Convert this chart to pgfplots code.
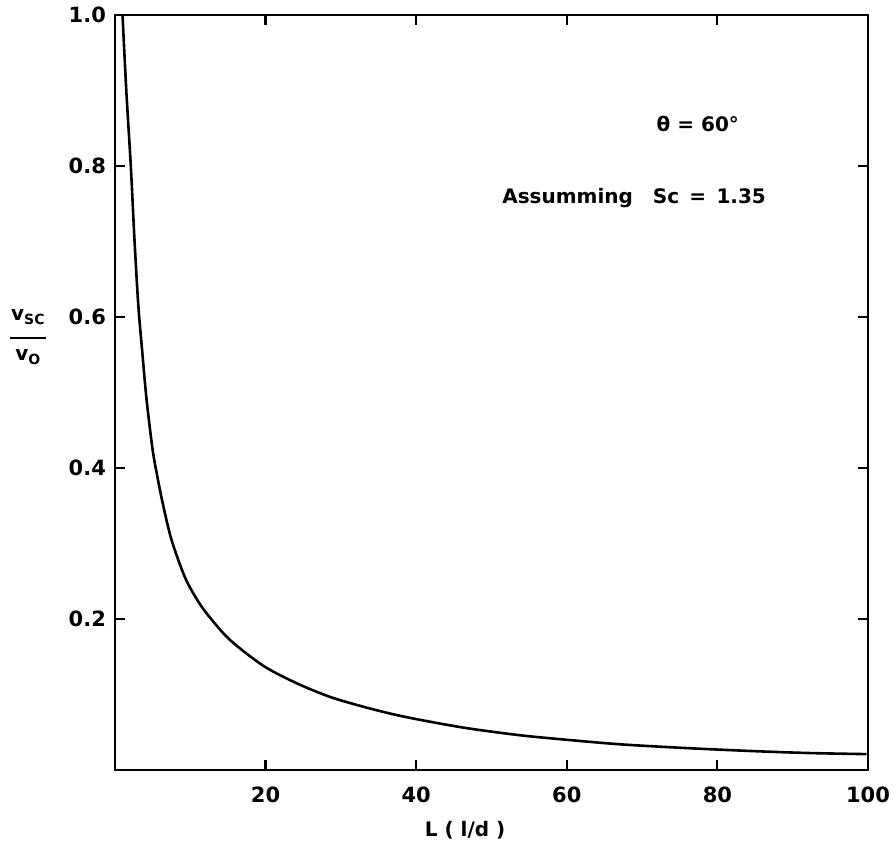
\documentclass[border=0pt]{standalone}
\usepackage{fontspec}
\setmainfont{DejaVu Sans}
\usepackage{pgfplots}
\pgfplotsset{compat=1.18}

\begin{document}
\begin{tikzpicture}[x=0.5pt,y=0.5pt]
% page frame, 896 x 855 px with the axis box at (115,15)-(868,770)
\useasboundingbox (-115,-85) rectangle (781,770);
\begin{axis}[
  at={(0,0)},anchor=south west,
  scale only axis,width=376.5pt,height=377.5pt,
  xmin=0,xmax=100,ymin=0,ymax=1.0,
  xtick={20,40,60,80,100},
  ytick={0.2,0.4,0.6,0.8,1.0},
  yticklabels={0.2,0.4,0.6,0.8,1.0},
  tick align=inside,major tick length=5pt,
  axis line style={line width=1.4pt},
  every tick/.style={line width=1.1pt,black},
  tick label style={font=\bfseries\fontsize{10.5}{12}\selectfont},
  /pgf/number format/assume math mode=true,
  xticklabel style={yshift=-5pt},
  yticklabel style={xshift=-1pt},
  clip=false,
]
\addplot[black,line width=1.3pt,smooth] coordinates {
  (1.0,1.0) (1.5,0.9) (2.1,0.8) (2.6,0.7) (3.1,0.615) (3.6,0.556)
  (4.2,0.49) (5.0,0.424) (5.6,0.39) (6.3,0.355) (7.5,0.305)
  (9.3,0.255) (11,0.224) (12.6,0.202) (15.3,0.172) (19.7,0.138)
  (24.1,0.115) (28.5,0.097) (32.9,0.084) (37.3,0.073) (41.8,0.064)
  (47,0.055) (53.8,0.046) (60,0.040) (67.1,0.034) (75.9,0.029)
  (84.8,0.025) (92,0.0225) (99.8,0.021)
};
\node[anchor=west,font=\bfseries\fontsize{10}{12}\selectfont] at (axis cs:71,0.855) {θ = 60\textdegree};
\node[anchor=west,font=\bfseries\fontsize{10}{12}\selectfont] at (axis cs:50.5,0.758) {Assumming\quad Sc \,=\, 1.35};
\node[font=\bfseries\fontsize{10}{12}\selectfont] at (axis cs:46.5,-0.08) {L ( l/d )};
\node[font=\bfseries\fontsize{10}{12}\selectfont,inner sep=0pt] at (axis cs:-11.5,0.575)
  {\begin{tabular}{@{}c@{}}v\textsubscript{SC}\\[-3pt]\rule{18pt}{1pt}\\[-1pt]v\textsubscript{O}\end{tabular}};
\end{axis}
\end{tikzpicture}
\end{document}
